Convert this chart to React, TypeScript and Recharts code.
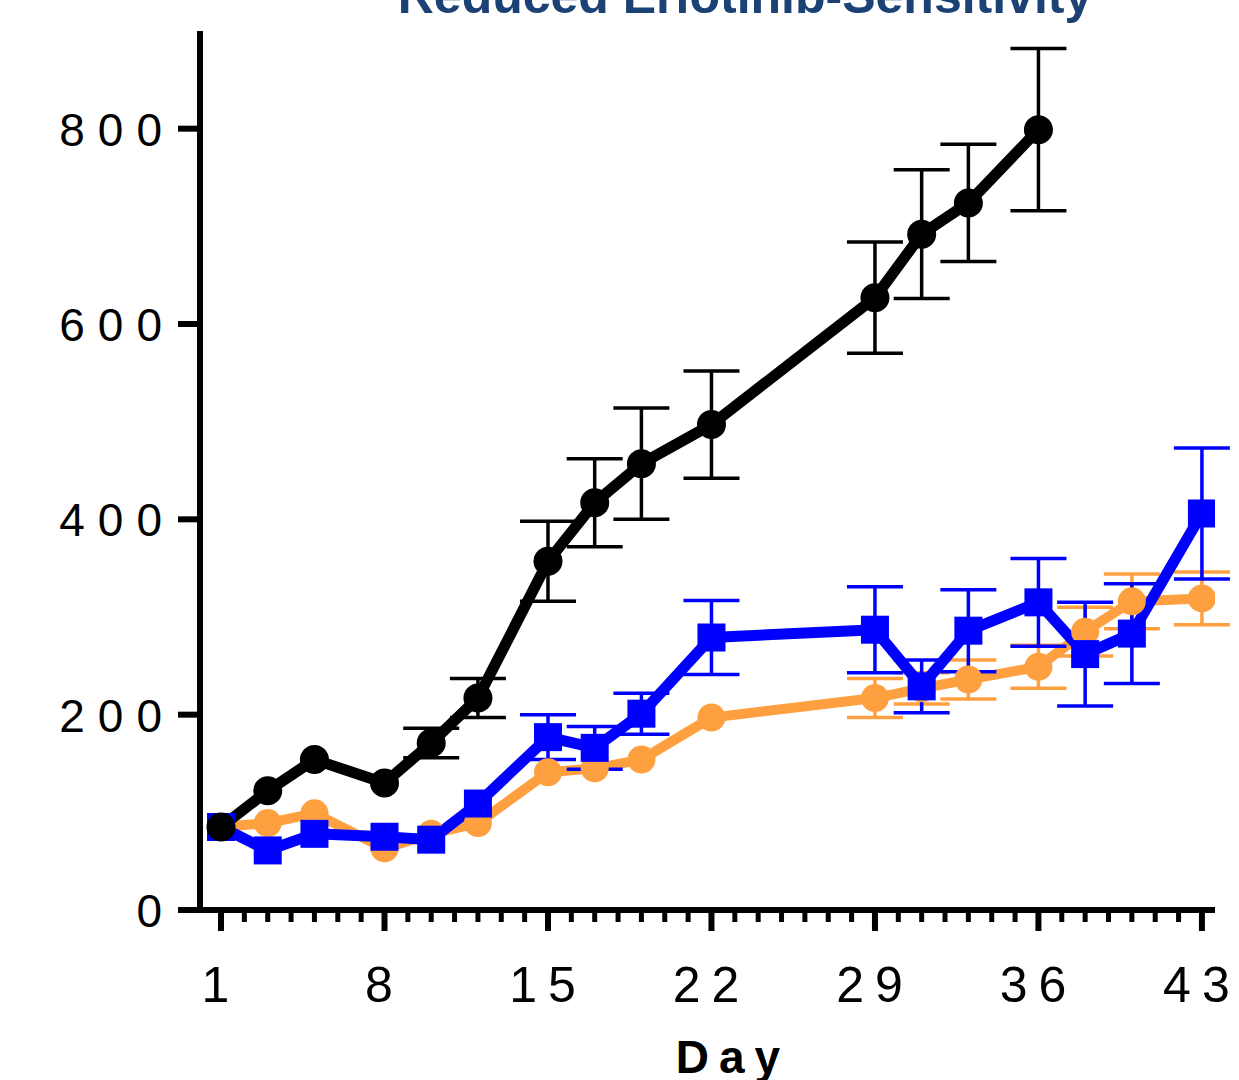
import React from 'react';
import { LineChart, Line, XAxis, YAxis, ErrorBar } from 'recharts';

const days = [1, 3, 5, 8, 10, 12, 15, 17, 19, 22, 29, 31, 33, 36, 38, 40, 43];
const blackMean = [85, 122, 154, 130, 171, 217, 357, 417, 457, 497, 627, 692, 724, 799, null, null, null];
const blackErr = [null, null, null, null, 15, 20, 41, 45, 57, 55, 57, 66, 60, 83, null, null, null];
const blueMean = [85, 61, 78, 75, 72, 109, 177, 166, 201, 279, 287, 229, 286, 315, 262, 283, 406];
const blueErr = [null, null, null, null, null, null, 23, 22, 21, 38, 44, 27, 42, 45, 53, 51, 67];
const orangeMean = [85, 89, 99, 63, 78, 89, 141, 145, 154, 197, 217, 227, 236, 249, 285, 316, 319];
const orangeErr = [null, null, null, null, null, null, null, null, null, null, 20, 16, 20, 22, 25, 28, 27];

const majorDays = [1, 8, 15, 22, 29, 36, 43];
const allDays = [
  1, 2, 3, 4, 5, 6, 7, 8, 9, 10, 11, 12, 13, 14, 15, 16, 17, 18, 19, 20, 21, 22,
  23, 24, 25, 26, 27, 28, 29, 30, 31, 32, 33, 34, 35, 36, 37, 38, 39, 40, 41, 42, 43,
];
const yTicks = [0, 200, 400, 600, 800];

const title = 'Reduced Erlotinib-Sensitivity';
const xLabel = 'Day';

const data = days.map((d, i) => ({
  day: d,
  black: blackMean[i],
  blackErr: blackErr[i],
  blue: blueMean[i],
  blueErr: blueErr[i],
  orange: orangeMean[i],
  orangeErr: orangeErr[i],
}));

const FONT = '"Liberation Sans", Arial, Helvetica, sans-serif';
const BLACK = '#000000';
const BLUE = '#0000FF';
const ORANGE = '#FFA040';
const TITLE = '#1B4175';

const XTick = (props: any) => {
  const { x, y, payload } = props;
  const major = majorDays.includes(payload.value);
  return (
    <g>
      <line x1={x} x2={x} y1={y} y2={y + (major ? 21 : 12)} stroke={BLACK} strokeWidth={major ? 6 : 5} />
      {major && (
        <text x={x} y={y + 92} textAnchor="middle" fontSize={50} letterSpacing={11} fontFamily={FONT} fill={BLACK}>
          {payload.value}
        </text>
      )}
    </g>
  );
};

const YTick = (props: any) => {
  const { x, y, payload } = props;
  return (
    <text x={x} y={y + 17} textAnchor="end" fontSize={46} letterSpacing={13} fontFamily={FONT} fill={BLACK}>
      {payload.value}
    </text>
  );
};

const SquareDot = (props: any) => {
  const { cx, cy, index } = props;
  if (cx == null || cy == null) return <g key={`sq-${index}`} />;
  return <rect key={`sq-${index}`} x={cx - 14} y={cy - 14} width={28} height={28} fill={BLUE} />;
};

export default function App() {
  return (
    <div style={{ position: 'absolute', left: 0, top: 0, width: 1239, height: 1080, background: '#fff' }}>
      <LineChart width={1239} height={1080} data={data} margin={{ top: 31, right: 24, bottom: 0, left: 0 }}>
        <XAxis
          type="number"
          dataKey="day"
          domain={[0.1, 43.56]}
          allowDataOverflow
          ticks={allDays}
          interval={0}
          height={170}
          tickLine={false}
          tickSize={0}
          tickMargin={0}
          axisLine={{ stroke: BLACK, strokeWidth: 6 }}
          tick={<XTick />}
        />
        <YAxis
          type="number"
          domain={[0, 900]}
          allowDataOverflow
          ticks={yTicks}
          interval={0}
          width={200}
          tickSize={22}
          tickMargin={3}
          tickLine={{ stroke: BLACK, strokeWidth: 6 }}
          axisLine={{ stroke: BLACK, strokeWidth: 6 }}
          tick={<YTick />}
        />
        <Line
          dataKey="orange"
          stroke={ORANGE}
          strokeWidth={10}
          strokeLinejoin="round"
          dot={{ r: 14, fill: ORANGE, stroke: 'none', strokeWidth: 0 }}
          activeDot={false}
          isAnimationActive={false}
        >
          <ErrorBar dataKey="orangeErr" direction="y" width={28} strokeWidth={3.5} stroke={ORANGE} />
        </Line>
        <Line
          dataKey="blue"
          stroke={BLUE}
          strokeWidth={11}
          strokeLinejoin="round"
          dot={<SquareDot />}
          activeDot={false}
          isAnimationActive={false}
        >
          <ErrorBar dataKey="blueErr" direction="y" width={28} strokeWidth={3.5} stroke={BLUE} />
        </Line>
        <Line
          dataKey="black"
          stroke={BLACK}
          strokeWidth={11}
          strokeLinejoin="round"
          dot={{ r: 14.5, fill: BLACK, stroke: 'none', strokeWidth: 0 }}
          activeDot={false}
          isAnimationActive={false}
        >
          <ErrorBar dataKey="blackErr" direction="y" width={28} strokeWidth={3.5} stroke={BLACK} />
        </Line>
        <text x={745} y={13} textAnchor="middle" fontSize={50} fontWeight="bold" fontFamily={FONT} fill={TITLE}>
          {title}
        </text>
        <text x={733} y={1073} textAnchor="middle" fontSize={46} fontWeight="bold" letterSpacing={10} fontFamily={FONT} fill={BLACK}>
          {xLabel}
        </text>
      </LineChart>
    </div>
  );
}
